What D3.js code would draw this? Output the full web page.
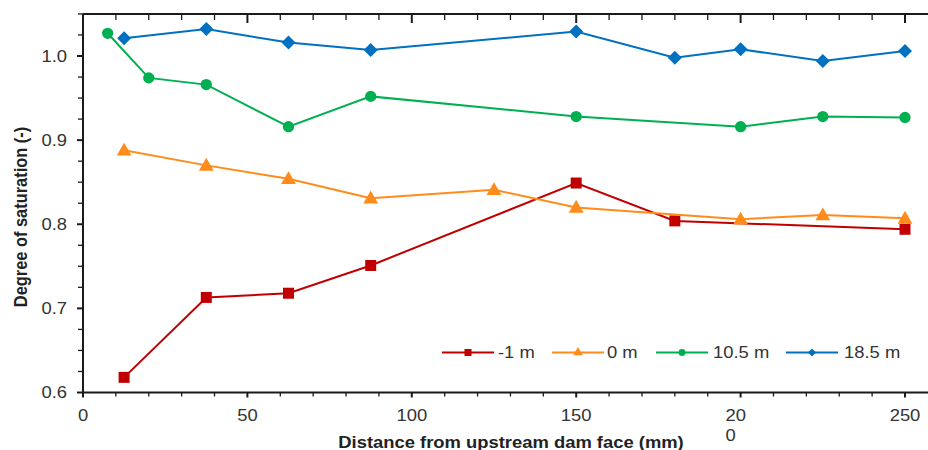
<!DOCTYPE html>
<html>
<head>
<meta charset="utf-8">
<script src="https://cdn.jsdelivr.net/npm/d3@7"></script>
<style>
  html, body { margin: 0; padding: 0; background: #fff; }
  svg { display: block; font-family: Arial, "Liberation Sans", sans-serif; }
</style>
</head>
<body>
<svg id="chart" width="928" height="450"></svg>
<script>
// ---- data ----
const seriesNames = ["-1 m", "0 m", "10.5 m", "18.5 m"];
const seriesColors = ["#C00000", "#FF8C1A", "#00B050", "#0070C0"];
const seriesMarkers = ["square", "triangle", "circle", "diamond"];

const xMinus1 = [12.5, 37.5, 62.5, 87.5, 150, 180, 250];
const yMinus1 = [0.618, 0.713, 0.718, 0.751, 0.849, 0.804, 0.794];

const x0 = [12.5, 37.5, 62.5, 87.5, 125, 150, 200, 225, 250];
const y0 = [0.888, 0.870, 0.854, 0.831, 0.841, 0.820, 0.806, 0.811, 0.807];

const x105 = [7.5, 20, 37.5, 62.5, 87.5, 150, 200, 225, 250];
const y105 = [1.027, 0.974, 0.966, 0.916, 0.952, 0.928, 0.916, 0.928, 0.927];

const x185 = [12.5, 37.5, 62.5, 87.5, 150, 180, 200, 225, 250];
const y185 = [1.021, 1.032, 1.016, 1.007, 1.029, 0.998, 1.008, 0.994, 1.006];

const xTickValues = [0, 50, 100, 150, 200, 250];
const xTickLabels = ["0", "50", "100", "150", "20\n0", "250"];
const yTickValues = [0.6, 0.7, 0.8, 0.9, 1.0];
const yTickLabels = ["0.6", "0.7", "0.8", "0.9", "1.0"];

const xTitle = "Distance from upstream dam face (mm)";
const yTitle = "Degree of saturation (-)";

const seriesX = [xMinus1, x0, x105, x185];
const seriesY = [yMinus1, y0, y105, y185];

// ---- layout ----
const svg = d3.select("#chart");
const pLeft = 83, pRight = 905, pTop = 14, pBottom = 392.5, pEdge = 928;
const sx = 1.15; // horizontal text stretch

const x = d3.scaleLinear().domain([0, 250]).range([pLeft, pRight]);
const y = d3.scaleLinear().domain([0.6, 1.0]).range([pBottom, 56]);

const axisColor = "#1a1a1a";
const textColor = "#333";

// minor ticks
const xMinor = d3.range(0, 260, 10);
const yMinor = d3.range(0, 19).map(i => 0.6 + i * 0.025);
const isMajorY = d => Math.abs(Math.round(d * 10) - d * 10) < 1e-6;

// bottom axis
const gx = svg.append("g");
gx.append("line").attr("x1", pLeft).attr("x2", pEdge).attr("y1", pBottom).attr("y2", pBottom)
  .attr("stroke", axisColor).attr("stroke-width", 2);
gx.selectAll("line.tk").data(xMinor).join("line").attr("class", "tk")
  .attr("x1", d => x(d)).attr("x2", d => x(d))
  .attr("y1", pBottom).attr("y2", d => pBottom + (d % 50 === 0 ? 5 : 4))
  .attr("stroke", axisColor).attr("stroke-width", d => d % 50 === 0 ? 2 : 1.3);

// top axis line with inward ticks
const gt = svg.append("g");
gt.append("line").attr("x1", pLeft).attr("x2", pEdge).attr("y1", pTop).attr("y2", pTop)
  .attr("stroke", axisColor).attr("stroke-width", 2);
gt.selectAll("line.tk").data(xMinor).join("line").attr("class", "tk")
  .attr("x1", d => x(d)).attr("x2", d => x(d))
  .attr("y1", pTop).attr("y2", d => pTop + (d % 50 === 0 ? 9 : 6))
  .attr("stroke", axisColor).attr("stroke-width", d => d % 50 === 0 ? 2 : 1.3);

// left axis
const gy = svg.append("g");
gy.append("line").attr("x1", pLeft).attr("x2", pLeft).attr("y1", pTop).attr("y2", pBottom + 1)
  .attr("stroke", axisColor).attr("stroke-width", 2);
gy.selectAll("line.tk").data(yMinor.filter(v => y(v) >= pTop - 0.5)).join("line").attr("class", "tk")
  .attr("x1", d => pLeft - (isMajorY(d) ? 6 : 5)).attr("x2", pLeft)
  .attr("y1", d => y(d)).attr("y2", d => y(d))
  .attr("stroke", axisColor).attr("stroke-width", d => isMajorY(d) ? 2 : 1.3);

// y tick labels
svg.append("g").selectAll("text").data(yTickValues).join("text")
  .attr("transform", d => `translate(67,${y(d)}) scale(${sx},1)`)
  .attr("dy", "0.36em")
  .attr("text-anchor", "end").attr("font-size", 16).attr("fill", textColor)
  .text((d, i) => yTickLabels[i]);

// x tick labels
const xl = svg.append("g").selectAll("text").data(xTickValues).join("text")
  .attr("font-size", 16).attr("fill", textColor)
  .attr("transform", d => `translate(${x(d)},420.5) scale(${sx},1)`)
  .attr("text-anchor", (d, i) => xTickLabels[i].includes("\n") ? "start" : "middle");
xl.each(function (d, i) {
  const lines = xTickLabels[i].split("\n");
  const t = d3.select(this);
  if (lines.length > 1) {
    lines.forEach((ln, j) => {
      t.append("tspan").attr("x", -15 / sx).attr("dy", j === 0 ? 0 : 21).text(ln);
    });
  } else {
    t.text(lines[0]);
  }
});

// axis titles
svg.append("text").attr("transform", `translate(511,447.5) scale(${sx},1)`)
  .attr("text-anchor", "middle").attr("font-size", 16).attr("font-weight", "bold").attr("fill", "#222")
  .text(xTitle);
svg.append("text").attr("transform", `translate(27,217) scale(${sx},1) rotate(-90)`)
  .attr("text-anchor", "middle").attr("font-size", 16.4).attr("font-weight", "bold").attr("fill", "#222")
  .text(yTitle);

// marker shapes
const symbolTypes = {
  square: d3.symbolSquare, triangle: d3.symbolTriangle,
  circle: d3.symbolCircle, diamond: d3.symbolSquare
};
const markerRotate = { square: 0, triangle: 0, circle: 0, diamond: 45 };
const bigSizes = { square: 121, triangle: 95, circle: 100, diamond: 98 };
const smallSizes = { square: 49, triangle: 40, circle: 38, diamond: 32 };

const line = d3.line().x(d => x(d[0])).y(d => y(d[1]));

seriesNames.forEach((name, si) => {
  const pts = seriesX[si].map((xv, k) => [xv, seriesY[si][k]]);
  const g = svg.append("g");
  g.append("path").datum(pts).attr("d", line)
    .attr("fill", "none").attr("stroke", seriesColors[si]).attr("stroke-width", 2);
  const m = seriesMarkers[si];
  g.selectAll("path.mk").data(pts).join("path").attr("class", "mk")
    .attr("d", d3.symbol().type(symbolTypes[m]).size(bigSizes[m]))
    .attr("transform", d => `translate(${x(d[0])},${y(d[1]) + (m === "triangle" ? 1 : 0)}) rotate(${markerRotate[m]})`)
    .attr("fill", seriesColors[si]);
});

// legend
const legendItems = [
  { lx: 442, tx: 498 },
  { lx: 552, tx: 607 },
  { lx: 656, tx: 713 },
  { lx: 786, tx: 844 }
];
const ly = 352.5;
seriesNames.forEach((name, si) => {
  const it = legendItems[si];
  const g = svg.append("g");
  g.append("line").attr("x1", it.lx).attr("x2", it.lx + 52).attr("y1", ly).attr("y2", ly)
    .attr("stroke", seriesColors[si]).attr("stroke-width", 2);
  const m = seriesMarkers[si];
  g.append("path").attr("d", d3.symbol().type(symbolTypes[m]).size(smallSizes[m])())
    .attr("transform", `translate(${it.lx + 26},${ly}) rotate(${markerRotate[m]})`).attr("fill", seriesColors[si]);
  g.append("text").attr("transform", `translate(${it.tx},${ly}) scale(${sx},1)`).attr("dy", "0.36em")
    .attr("font-size", 16).attr("fill", textColor).text(name);
});
</script>
</body>
</html>
